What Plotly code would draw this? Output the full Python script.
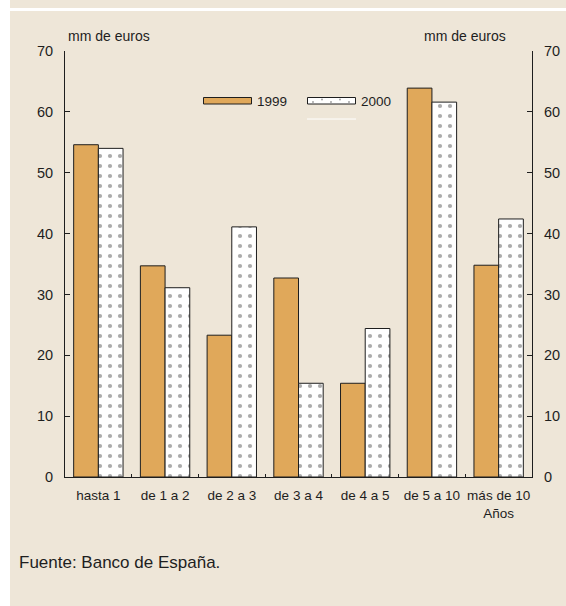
import plotly.graph_objects as go

# Vencimientos (años) y saldos en miles de millones de euros
categories = ["hasta 1", "de 1 a 2", "de 2 a 3", "de 3 a 4", "de 4 a 5", "de 5 a 10", "más de 10"]
tick_labels = ["hasta 1", "de 1 a 2", "de 2 a 3", "de 3 a 4", "de 4 a 5", "de 5 a 10", "más de 10<br>Años"]
values_1999 = [54.6, 34.7, 23.3, 32.7, 15.4, 63.9, 34.8]
values_2000 = [54.0, 31.1, 41.1, 15.4, 24.4, 61.6, 42.4]
y_ticks = [0, 10, 20, 30, 40, 50, 60, 70]

W, H = 566, 606
L, R, T, B = 65, 34, 51, 129
PW, PH = W - L - R, H - T - B

BEIGE = "#eee6d8"
ORANGE = "#e0a85a"
INK = "#1e1e1e"
FONT = "Liberation Sans, Arial, sans-serif"


def px(x):
    return (x - L) / PW


def py(y):
    return (H - B - y) / PH


fig = go.Figure()
fig.add_trace(go.Bar(
    x=categories, y=values_1999, name="1999",
    marker=dict(color=ORANGE, line=dict(color=INK, width=1)),
    showlegend=False,
))
fig.add_trace(go.Bar(
    x=categories, y=values_2000, name="2000",
    marker=dict(
        color="white",
        line=dict(color=INK, width=1),
        pattern=dict(shape=".", fgcolor="#ababab", bgcolor="white",
                     size=10, solidity=0.14, fillmode="replace"),
    ),
    showlegend=False,
))
# invisible companion so the right-hand axis is drawn
fig.add_trace(go.Scatter(
    x=categories, y=values_1999, yaxis="y2", mode="markers",
    marker=dict(opacity=0), hoverinfo="skip", showlegend=False,
))

shapes = [
    # background panels
    dict(type="rect", xref="paper", yref="paper", layer="below",
         x0=px(10), x1=px(W + 5), y0=py(-5), y1=py(8),
         fillcolor=BEIGE, line=dict(width=0)),
    dict(type="rect", xref="paper", yref="paper", layer="below",
         x0=px(10), x1=px(W + 5), y0=py(H + 5), y1=py(11),
         fillcolor=BEIGE, line=dict(width=0)),
    # legend swatches
    dict(type="rect", xref="paper", yref="paper",
         x0=px(203.5), x1=px(251.5), y0=py(104), y1=py(97.5),
         fillcolor=ORANGE, line=dict(color=INK, width=1)),
    dict(type="rect", xref="paper", yref="paper",
         x0=px(307.5), x1=px(355.5), y0=py(104), y1=py(97.5),
         fillcolor="white", line=dict(color=INK, width=1)),
    dict(type="line", xref="paper", yref="paper",
         x0=px(307), x1=px(356), y0=py(119), y1=py(119),
         line=dict(color="white", width=1)),
]
# dots inside the 2000 legend swatch
for dx, dy in [(313, 102), (322, 99.5), (331, 102), (340, 99.5), (349, 102)]:
    shapes.append(dict(type="circle", xref="paper", yref="paper",
                       x0=px(dx - 0.9), x1=px(dx + 0.9), y0=py(dy + 0.9), y1=py(dy - 0.9),
                       fillcolor="#9a9a9a", line=dict(width=0)))

annotations = [
    dict(text="mm de euros", x=px(66), y=py(36), xanchor="left", yanchor="middle",
         font=dict(size=14)),
    dict(text="mm de euros", x=px(508), y=py(36), xanchor="right", yanchor="middle",
         font=dict(size=14)),
    dict(text="1999", x=px(255), y=py(101), xanchor="left", yanchor="middle",
         font=dict(size=13.5)),
    dict(text="2000", x=px(359), y=py(101), xanchor="left", yanchor="middle",
         font=dict(size=13.5)),
    dict(text="Fuente: Banco de España.", x=px(17), y=py(562), xanchor="left",
         yanchor="middle", font=dict(size=17)),
]
for a in annotations:
    a.update(xref="paper", yref="paper", showarrow=False)

yaxis_common = dict(
    range=[0, 70], tickvals=y_ticks, ticks="inside", ticklen=5, tickcolor=INK,
    showline=True, linecolor=INK, linewidth=1, showgrid=False, zeroline=False,
    tickfont=dict(size=14.5, color=INK), ticklabelstandoff=8, fixedrange=True,
    automargin=False,
)

fig.update_layout(
    width=W, height=H,
    margin=dict(l=L, r=R, t=T, b=B, pad=0, autoexpand=False),
    paper_bgcolor="white",
    plot_bgcolor="rgba(0,0,0,0)",
    font=dict(family=FONT, color=INK),
    barmode="group", bargap=0.26, bargroupgap=0,
    xaxis=dict(
        range=[-0.5, 6.5], tickvals=categories, ticktext=tick_labels,
        ticks="inside", tickson="boundaries", ticklen=3, tickcolor=INK,
        showline=True, linecolor=INK, linewidth=1, showgrid=False,
        tickangle=0, tickfont=dict(size=13.5, color=INK),
        ticklabelstandoff=6, fixedrange=True, automargin=False,
    ),
    yaxis=dict(side="left", **yaxis_common),
    yaxis2=dict(side="right", overlaying="y", **yaxis_common),
    shapes=shapes,
    annotations=annotations,
    showlegend=False,
)

fig.write_html("out.html")
